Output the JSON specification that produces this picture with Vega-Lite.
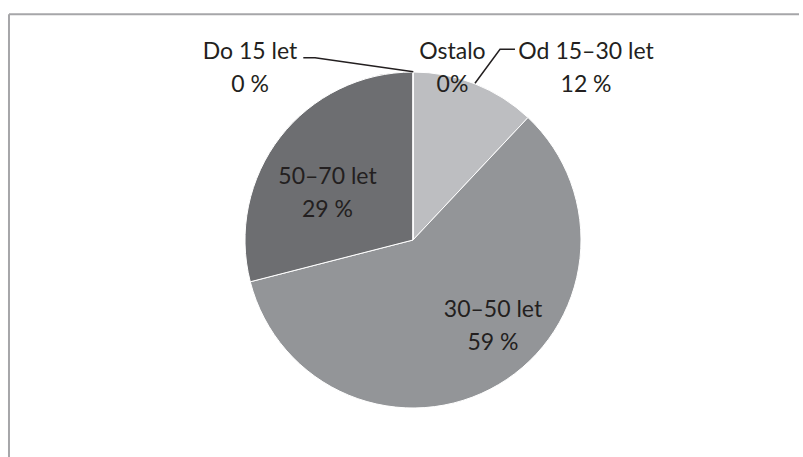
{
  "$schema": "https://vega.github.io/schema/vega-lite/v6.json",
  "autosize": "none",
  "width": 772,
  "height": 434,
  "padding": {"left": 27, "top": 23, "right": 0, "bottom": 0},
  "background": "white",
  "view": {"stroke": null},
  "datasets": {
    "slices": [
      {"group": "Do 15 let", "share": 0, "rank": 1},
      {"group": "Od 15–30 let", "share": 12, "rank": 2},
      {"group": "30–50 let", "share": 59, "rank": 3},
      {"group": "50–70 let", "share": 29, "rank": 4},
      {"group": "Ostalo", "share": 0, "rank": 5}
    ],
    "labels": [
      {"text": "Do 15 let\n0 %", "lx": -97.0, "ly": 108.0},
      {"text": "Ostalo\n0%", "lx": 23.5, "ly": 108.0},
      {"text": "Od 15–30 let\n12 %", "lx": 103.0, "ly": 108.0},
      {"text": "50–70 let\n29 %", "lx": -50.9, "ly": 33.3},
      {"text": "30–50 let\n59 %", "lx": 47.6, "ly": -45.8}
    ],
    "leaders": [
      {"leader": "Do 15 let", "step": 1, "lx": -65.3, "ly": 108.5},
      {"leader": "Do 15 let", "step": 2, "lx": -58.3, "ly": 108.5},
      {"leader": "Do 15 let", "step": 3, "lx": 0.2, "ly": 100.2},
      {"leader": "Ostalo", "step": 1, "lx": 60.7, "ly": 113.5},
      {"leader": "Ostalo", "step": 2, "lx": 51.8, "ly": 113.5},
      {"leader": "Ostalo", "step": 3, "lx": 36.9, "ly": 93.3}
    ],
    "frame": [
      {"side": "left", "fx": -240.48, "fy": 134.35, "fx2": -240.48, "fy2": -129.17},
      {"side": "top", "fx": -240.48, "fy": 134.35, "fx2": 229.76, "fy2": 134.35}
    ]
  },
  "layer": [
    {
      "data": {"name": "frame"},
      "mark": {"type": "rule", "color": "#A6A6A9", "strokeWidth": 2},
      "encoding": {
        "x": {"field": "fx", "type": "quantitative", "scale": {"domain": [-229.76, 229.76]}, "axis": null},
        "x2": {"field": "fx2"},
        "y": {"field": "fy", "type": "quantitative", "scale": {"domain": [-129.17, 129.17]}, "axis": null},
        "y2": {"field": "fy2"}
      }
    },
    {
      "data": {"name": "slices"},
      "mark": {"type": "arc", "outerRadius": 168, "stroke": "white", "strokeWidth": 1},
      "encoding": {
        "theta": {"field": "share", "type": "quantitative", "stack": true},
        "order": {"field": "rank", "type": "quantitative"},
        "color": {
          "field": "group",
          "type": "nominal",
          "scale": {
            "domain": ["Do 15 let", "Od 15–30 let", "30–50 let", "50–70 let", "Ostalo"],
            "range": ["#4F81BD", "#BDBEC1", "#939598", "#6D6E71", "#A0A0A0"]
          },
          "legend": null
        }
      }
    },
    {
      "data": {"name": "leaders"},
      "mark": {"type": "line", "color": "#231F20", "strokeWidth": 1.5},
      "encoding": {
        "x": {"field": "lx", "type": "quantitative", "scale": {"domain": [-229.76, 229.76]}, "axis": null},
        "y": {"field": "ly", "type": "quantitative", "scale": {"domain": [-129.17, 129.17]}, "axis": null},
        "detail": {"field": "leader", "type": "nominal"},
        "order": {"field": "step", "type": "quantitative"}
      }
    },
    {
      "data": {"name": "labels"},
      "mark": {
        "type": "text",
        "font": "Lato",
        "fontSize": 23,
        "color": "#231F20",
        "align": "center",
        "baseline": "alphabetic",
        "lineBreak": "\n",
        "lineHeight": 33
      },
      "encoding": {
        "x": {"field": "lx", "type": "quantitative", "scale": {"domain": [-229.76, 229.76]}, "axis": null},
        "y": {"field": "ly", "type": "quantitative", "scale": {"domain": [-129.17, 129.17]}, "axis": null},
        "text": {"field": "text", "type": "nominal"}
      }
    }
  ]
}
